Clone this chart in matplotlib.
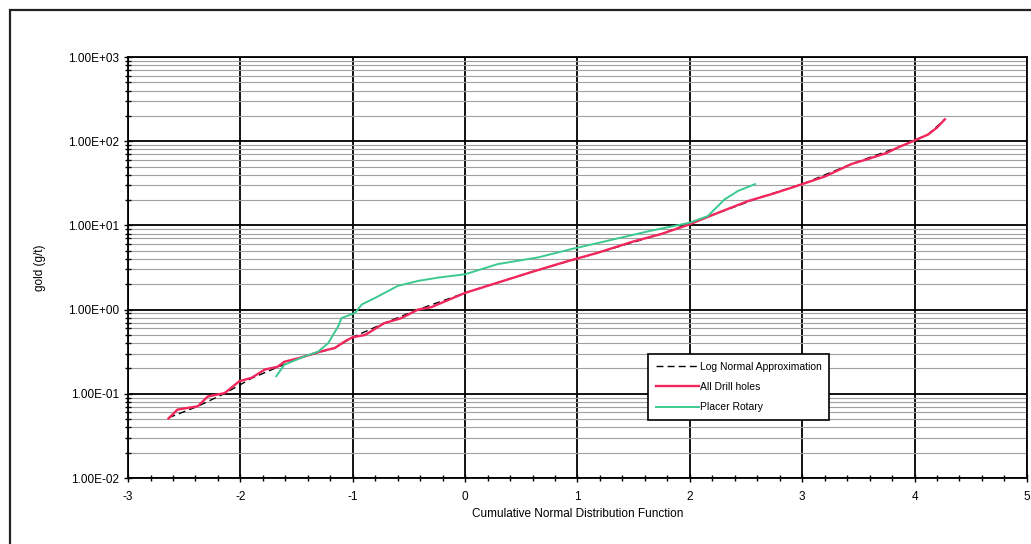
import matplotlib.pyplot as plt
from matplotlib.patches import Rectangle
from matplotlib.ticker import LogLocator, MultipleLocator, FuncFormatter, NullFormatter

plt.rcParams['font.family'] = ['Liberation Sans', 'DejaVu Sans']
plt.rcParams['axes.unicode_minus'] = False

# All drill holes
drill_x = [-2.64, -2.56, -2.38, -2.29, -2.14, -2.01, -1.90, -1.78, -1.67, -1.61,
           -1.46, -1.28, -1.16, -1.07, -1.00, -0.89, -0.72, -0.57, -0.42, -0.30,
           0.00, 0.29, 0.60, 0.90, 1.18, 1.50, 1.75, 1.99, 2.25, 2.52,
           2.75, 3.00, 3.20, 3.44, 3.59, 3.75, 3.86, 4.00, 4.12, 4.20, 4.27]
drill_y = [0.051, 0.065, 0.071, 0.093, 0.102, 0.141, 0.155, 0.195, 0.209, 0.24,
           0.27, 0.32, 0.35, 0.42, 0.47, 0.50, 0.69, 0.79, 1.00, 1.07,
           1.58, 2.09, 2.82, 3.72, 4.73, 6.46, 7.94, 10.2, 14.1, 19.5,
           24.0, 30.9, 38.0, 53.7, 61.7, 72.4, 85.1, 102, 120, 145, 182]

# Log normal approximation (mostly hidden under the drill hole curve)
lognorm_x = [-2.64, -2.38, -2.14, -1.90, -1.67, -1.46, -1.16, -1.00, -0.72, -0.42,
             0.00, 0.60, 1.18, 1.75, 2.00, 2.15, 2.30, 2.45, 2.60, 3.00,
             3.44, 3.86, 4.12, 4.27]
lognorm_y = [0.052, 0.071, 0.101, 0.153, 0.207, 0.27, 0.35, 0.47, 0.69, 1.00,
             1.58, 2.82, 4.73, 7.94, 10.6, 12.6, 14.9, 17.6, 21.0, 30.9,
             53.7, 85.1, 120, 182]

# Placer rotary
placer_x = [-1.68, -1.61, -1.43, -1.31, -1.22, -1.13, -1.10, -0.98, -0.92, -0.80,
            -0.60, -0.42, -0.24, 0.00, 0.29, 0.65, 0.95, 1.18, 1.63, 1.99,
            2.16, 2.31, 2.43, 2.58]
placer_y = [0.162, 0.221, 0.278, 0.316, 0.398, 0.631, 0.794, 0.912, 1.15, 1.38,
            1.91, 2.19, 2.40, 2.63, 3.47, 4.17, 5.25, 6.17, 8.51, 10.7,
            12.9, 20.4, 25.7, 30.9]

fig = plt.figure(figsize=(10.31, 5.44), dpi=100)
ax = fig.add_axes([0.1242, 0.1213, 0.8718, 0.7739])

# outer chart frame (cut off at right and bottom like the source)
fig.patches.append(Rectangle((10 / 1031, -0.1), 1.2, 1.1 - 10 / 544,
                             transform=fig.transFigure, fill=False,
                             edgecolor='#222222', linewidth=1.6))

ax.plot(lognorm_x, lognorm_y, color='black', linestyle=(0, (5, 3)), linewidth=1.0,
        label='Log Normal Approximation', zorder=3)
ax.plot(drill_x, drill_y, color='#f2275c', linewidth=1.7, label='All Drill holes', zorder=4)
ax.plot(placer_x, placer_y, color='#3cc98f', linewidth=1.4, label='Placer Rotary', zorder=4)

ax.set_yscale('log')
ax.set_xlim(-3, 5)
ax.set_ylim(0.01, 1000)

ax.xaxis.set_major_locator(MultipleLocator(1))
ax.xaxis.set_minor_locator(MultipleLocator(0.2))
ax.yaxis.set_major_locator(LogLocator(base=10, numticks=10))
ax.yaxis.set_minor_locator(LogLocator(base=10, subs=range(2, 10), numticks=50))
ax.yaxis.set_major_formatter(FuncFormatter(lambda v, p: '%.2E' % v))
ax.yaxis.set_minor_formatter(NullFormatter())

ax.grid(True, which='major', color='black', linewidth=1.3)
ax.grid(True, which='minor', axis='y', color='#a0a0a0', linewidth=0.8)
ax.set_axisbelow(True)

ax.tick_params(axis='both', which='major', direction='inout', length=6, width=1,
               labelsize=8.5, colors='black')
ax.tick_params(axis='both', which='minor', direction='inout', length=4, width=1)
ax.tick_params(axis='x', pad=6)

for s in ax.spines.values():
    s.set_linewidth(1.3)

ax.set_xlabel('Cumulative Normal Distribution Function', fontsize=8.5, labelpad=4)
ax.set_ylabel('gold (g/t)', fontsize=8.5, labelpad=16)

leg = ax.legend(loc='lower left', bbox_to_anchor=(0.573, 0.126), fontsize=7.5,
                frameon=True, fancybox=False, edgecolor='black', framealpha=1,
                handlelength=4.2, handletextpad=0.1, borderpad=0.7, labelspacing=1.0)
leg.get_frame().set_linewidth(1.2)

fig.savefig('out.png', dpi=100)
